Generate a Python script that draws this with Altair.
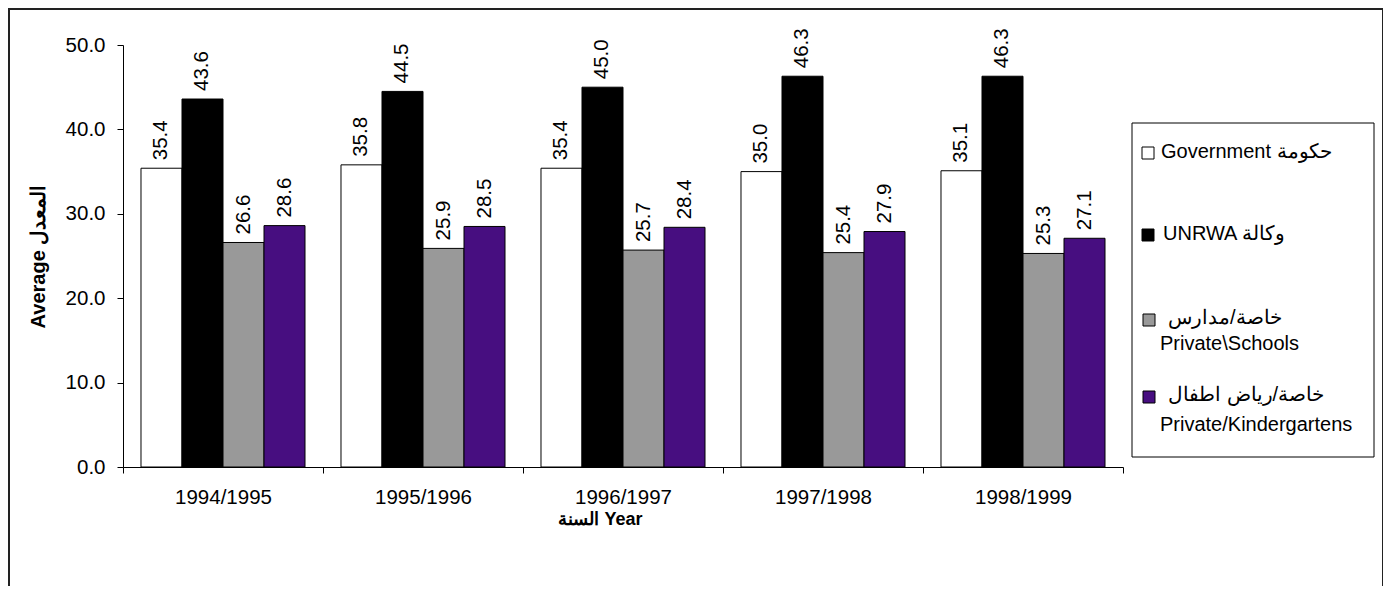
import altair as alt
import pandas as pd

# ---- data ----
years = ["1994/1995", "1995/1996", "1996/1997", "1997/1998", "1998/1999"]
series_names = ["Government", "UNRWA", "Private Schools", "Private Kindergartens"]
government = [35.4, 35.8, 35.4, 35.0, 35.1]
unrwa = [43.6, 44.5, 45.0, 46.3, 46.3]
private_schools = [26.6, 25.9, 25.7, 25.4, 25.3]
private_kindergartens = [28.6, 28.5, 28.4, 27.9, 27.1]

legend_line1 = ["Government  حكومة", "UNRWA  وكالة", "خاصة/مدارس", "خاصة/رياض اطفال"]
legend_line2 = ["", "", "Private\\Schools", "Private/Kindergartens"]

colors = ["#ffffff", "#000000", "#999999", "#470e80"]

FONT = "Liberation Sans"
FS = 20.5

rows = []
for i, yr in enumerate(years):
    for name, vals in zip(series_names, [government, unrwa, private_schools, private_kindergartens]):
        rows.append({"year": yr, "series": name, "value": vals[i]})
df = pd.DataFrame(rows)

x_enc = alt.X(
    "year:N",
    sort=years,
    scale=alt.Scale(paddingInner=0, paddingOuter=0),
    axis=alt.Axis(
        title="السنة  Year",
        titleFont=FONT, titleFontSize=18, titleFontWeight="bold", titleColor="black",
        titleX=477, titleY=52, titleAlign="center", titleBaseline="middle",
        labelAngle=0, labelFont=FONT, labelFontSize=FS, labelColor="black",
        labelPadding=14, tickBand="extent", tickSize=6, tickColor="black",
        domainColor="black", grid=False,
    ),
)
xo_enc = alt.XOffset(
    "series:N", sort=series_names,
    scale=alt.Scale(paddingOuter=0.439, paddingInner=0),
)
y_enc = alt.Y(
    "value:Q",
    scale=alt.Scale(domain=[0, 50]),
    axis=alt.Axis(
        values=[0, 10, 20, 30, 40, 50], format=".1f",
        title="Average  المعدل",
        titleFont=FONT, titleFontSize=20, titleFontWeight="bold", titleColor="black",
        titleX=-85, titleY=211, titleAngle=270, titleAlign="center", titleBaseline="middle",
        labelFont=FONT, labelFontSize=FS, labelColor="black", labelPadding=12,
        tickSize=6, tickColor="black", domainColor="black", grid=False,
    ),
)

base = alt.Chart(df)

bars = base.mark_bar(stroke="black", strokeWidth=1).encode(
    x=x_enc,
    xOffset=xo_enc,
    y=y_enc,
    color=alt.Color("series:N", scale=alt.Scale(domain=series_names, range=colors), legend=None),
)

labels = base.mark_text(
    angle=270, align="left", baseline="middle", dx=8,
    font=FONT, fontSize=FS, color="black",
).encode(
    x=x_enc,
    xOffset=xo_enc,
    y=y_enc,
    text=alt.Text("value:Q", format=".1f"),
)

one = alt.Data(values=[{"k": 1}])

layers = [bars, labels]

# legend frame
layers.append(
    alt.Chart(one).mark_rect(fill="white", stroke="black", strokeWidth=1).encode(
        x=alt.value(1009), x2=alt.value(1251), y=alt.value(78), y2=alt.value(412)
    )
)

sym_pos = [(1025, 108), (1025, 190), (1026, 275), (1026, 352)]
l1_pos = [(1038, 107), (1040, 189), (1045, 273), (1045, 350)]
l2_pos = [(1037, 299), (1037, 299), (1037, 299), (1037, 380)]

for i in range(4):
    sx, sy = sym_pos[i]
    layers.append(
        alt.Chart(one).mark_square(size=144, fill=colors[i], stroke="black", strokeWidth=1, opacity=1).encode(
            x=alt.value(sx), y=alt.value(sy)
        )
    )
    tx, ty = l1_pos[i]
    layers.append(
        alt.Chart(one).mark_text(
            align="left", baseline="middle", font=FONT, fontSize=20, color="black",
            text=legend_line1[i],
        ).encode(x=alt.value(tx), y=alt.value(ty))
    )
    if legend_line2[i]:
        tx2, ty2 = l2_pos[i]
        layers.append(
            alt.Chart(one).mark_text(
                align="left", baseline="middle", font=FONT, fontSize=20, color="black",
                text=legend_line2[i],
            ).encode(x=alt.value(tx2), y=alt.value(ty2))
        )

# outer frame (left, top, right)
layers.append(
    alt.Chart(one).mark_rule(color="#222", strokeWidth=2).encode(
        x=alt.value(-114), y=alt.value(-37), y2=alt.value(560)
    )
)
layers.append(
    alt.Chart(one).mark_rule(color="#222", strokeWidth=2).encode(
        x=alt.value(-115), x2=alt.value(1261), y=alt.value(-36)
    )
)
layers.append(
    alt.Chart(one).mark_rule(color="#222", strokeWidth=2).encode(
        x=alt.value(1260), y=alt.value(-37), y2=alt.value(560)
    )
)

chart = alt.layer(*layers).properties(
    width=1000,
    height=422,
    autosize=alt.AutoSizeParams(type="none"),
    padding={"left": 115, "top": 37, "right": 260, "bottom": 119},
    background="white",
).configure_view(stroke=None)

chart.save("out.html", embed_options={"renderer": "svg", "actions": False})
